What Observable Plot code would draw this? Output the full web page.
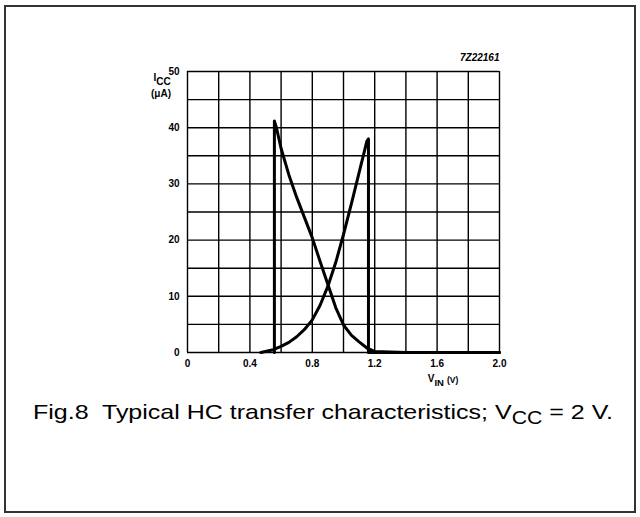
<!DOCTYPE html>
<html><head><meta charset="utf-8">
<script src="https://cdn.jsdelivr.net/npm/d3@7"></script>
<script src="https://cdn.jsdelivr.net/npm/@observablehq/plot@0.6"></script>
<style>
html,body{margin:0;padding:0;background:#fff;overflow:hidden;}
#wrap{position:relative;width:640px;height:517px;overflow:hidden;}
#box{position:absolute;left:4px;top:5px;width:632px;height:508px;box-sizing:border-box;border:2.5px solid #333;}
#chart{position:absolute;left:0;top:0;}
#caption{position:absolute;left:33px;top:400px;font-family:"Liberation Sans",Arial,sans-serif;font-size:21px;color:#000;white-space:nowrap;transform-origin:0 50%;}
#caption sub{font-size:0.85em;vertical-align:-0.3em;line-height:0;}
</style></head><body>
<div id="wrap"><div id="box"></div><div id="chart"></div>
<div id="caption">Fig.8&nbsp; Typical HC transfer characteristics; V<sub>CC</sub> = 2 V.</div></div>
<script>
// Falling curve
const fallX = [0.557, 0.557, 0.57, 0.60, 0.65, 0.70, 0.75, 0.80, 0.85, 0.90, 0.95, 1.00, 1.05, 1.10, 1.15, 1.20, 1.40, 2.00];
const fallY = [0, 41.2, 40.0, 36.3, 31.6, 27.6, 24.0, 20.4, 16.2, 12.1, 8.0, 4.9, 3.1, 1.9, 0.8, 0.2, 0, 0];
// Rising curve
const riseX = [0.47, 0.55, 0.60, 0.65, 0.70, 0.75, 0.80, 0.85, 0.90, 0.95, 1.00, 1.05, 1.10, 1.15, 1.16, 1.16, 2.00];
const riseY = [0, 0.5, 1.1, 1.8, 2.8, 4.1, 5.8, 8.4, 11.8, 16.0, 21.0, 26.4, 32.0, 37.6, 38.0, 0, 0];
const xTicks = [0, 0.4, 0.8, 1.2, 1.6, 2.0];
const yTicks = [0, 10, 20, 30, 40, 50];
const xGrid = [0, 0.2, 0.4, 0.6, 0.8, 1.0, 1.2, 1.4, 1.6, 1.8, 2.0];
const yGrid = [0, 5, 10, 15, 20, 25, 30, 35, 40, 45, 50];

const fall = fallX.map((x, i) => ({x, y: fallY[i]}));
const rise = riseX.map((x, i) => ({x, y: riseY[i]}));

const font = '"Liberation Sans", Arial, Helvetica, sans-serif';
const chart = Plot.plot({
  width: 640, height: 440,
  marginLeft: 187, marginRight: 141, marginTop: 71, marginBottom: 88,
  style: {fontFamily: font, fontSize: "10px", fontWeight: "bold", background: "transparent", color: "#000"},
  x: {domain: [0, 2], ticks: xTicks, tickSize: 0, tickPadding: 7, tickFormat: d => d === 0 ? "0" : d.toFixed(1), label: null},
  y: {domain: [0, 50], ticks: yTicks, tickSize: 0, tickPadding: 8, label: null},
  marks: [
    Plot.ruleX(xGrid, {stroke: "#000", strokeWidth: 1.4}),
    Plot.ruleY(yGrid, {stroke: "#000", strokeWidth: 1.4}),
    Plot.line(fall, {x: "x", y: "y", stroke: "#000", strokeWidth: 3, strokeLinejoin: "round"}),
    Plot.line(rise, {x: "x", y: "y", stroke: "#000", strokeWidth: 3, strokeLinejoin: "round"}),
    Plot.text(["7Z22161"], {frameAnchor: "top-right", textAnchor: "end", lineAnchor: "middle", dy: -14, fontStyle: "italic", fontWeight: "bold", fontSize: 10})
  ]
});
document.getElementById("chart").appendChild(chart);

const svg = d3.select(chart);
const g = svg.append("g").attr("font-family", font).attr("font-weight", "bold").attr("fill", "#000");
// y-axis label I_CC (μA)
const t1 = g.append("text").attr("x", 162).attr("y", 81).attr("font-size", 10);
t1.append("tspan").text("I");
t1.append("tspan").attr("dy", 4).text("CC");
g.append("text").attr("x", 161).attr("y", 97).attr("font-size", 10).text("(μA)");
// x-axis label V_IN (V)
const t2 = g.append("text").attr("x", 443).attr("y", 382).attr("font-size", 10);
t2.append("tspan").text("V");
t2.append("tspan").attr("dy", 4).attr("font-size", 9.5).text("IN");
t2.append("tspan").attr("dy", -3).attr("dx", 3).attr("font-size", 8.5).text("(V)");

// stretch caption to the reference width
const cap = document.getElementById("caption");
const w = cap.getBoundingClientRect().width;
cap.style.transform = `scaleX(${580 / w})`;
</script>
</body></html>
